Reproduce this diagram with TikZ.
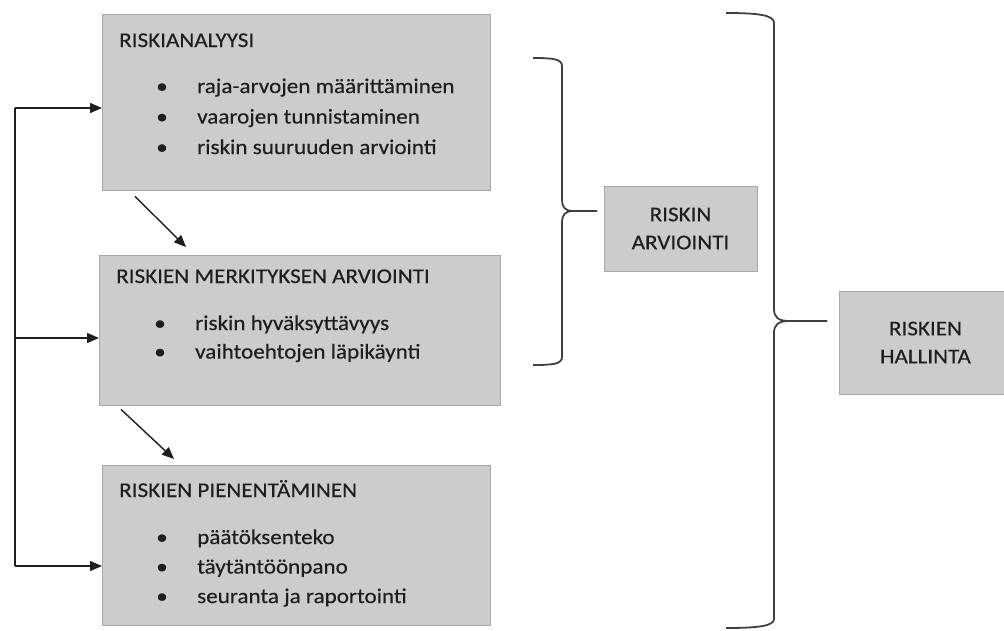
\documentclass[tikz,border=0pt]{standalone}
\usepackage{fontspec}
\setmainfont{Carlito}[FakeStretch=1.1, FakeBold=0.3]
\usetikzlibrary{arrows.meta,positioning}

\definecolor{boxgray}{HTML}{CCCCCC}
\definecolor{boxline}{HTML}{A8A8A8}
\definecolor{ink}{HTML}{1E1E1E}

\tikzset{
  box/.style={draw=boxline, fill=boxgray, inner sep=0pt, anchor=north west},
  sumbox/.style={draw=boxline, fill=boxgray, inner sep=0pt, align=center, text=ink},
  title/.style={anchor=base west, inner sep=0pt, text=ink},
  item/.style={anchor=base west, inner sep=0pt, text=ink},
  dot/.style={anchor=base, inner sep=0pt, text=ink},
  arr/.style={draw=ink, line width=1.4pt, -{Triangle[length=12pt,width=10pt]}},
  brace/.style={draw=ink!85, line width=1.8pt},
}

\begin{document}
\begin{tikzpicture}[x=1pt, y=-1pt, font=\fontsize{21}{28}\selectfont]
\useasboundingbox[fill=white] (0,0) rectangle (1004,630);

% the three steps
\node[box, minimum width=388pt, minimum height=176pt] (ana) at (102,14) {};
\node[title] (anat) at (119,47) {RISKIANALYYSI};
\foreach \t [count=\i] in {raja-arvojen määrittäminen, vaarojen tunnistaminen, riskin suuruuden arviointi} {
  \node[dot] (anad\i) at (162,{93+30.5*(\i-1)}) {\textbullet};
  \node[item] (ana\i) at (197,{93+30.5*(\i-1)}) {\t};
}

\node[box, minimum width=401pt, minimum height=150pt] (mer) at (99,255) {};
\node[title] (mert) at (116,283) {RISKIEN MERKITYKSEN ARVIOINTI};
\foreach \t [count=\i] in {riskin hyväksyttävyys, vaihtoehtojen läpikäynti} {
  \node[dot] (merd\i) at (160,{330+28.5*(\i-1)}) {\textbullet};
  \node[item] (mer\i) at (195,{330+28.5*(\i-1)}) {\t};
}

\node[box, minimum width=388pt, minimum height=160pt] (pie) at (102,465) {};
\node[title] (piet) at (119,497) {RISKIEN PIENENTÄMINEN};
\foreach \t [count=\i] in {päätöksenteko, täytäntöönpano, seuranta ja raportointi} {
  \node[dot] (pied\i) at (162,{544+29.5*(\i-1)}) {\textbullet};
  \node[item] (pie\i) at (197,{544+29.5*(\i-1)}) {\t};
}

% summary boxes
\node[sumbox, minimum width=153pt, minimum height=85pt] (arv) at (680.5,228.5) {RISKIN\\ARVIOINTI};
\node[sumbox, minimum width=173pt, minimum height=103pt] (hal) at (925.5,342.5) {RISKIEN\\HALLINTA};

% flow arrows
\draw[arr] ([xshift=33pt,yshift=-6pt]ana.south west) -- ([xshift=87pt,yshift=8pt]mer.north west);
\draw[arr] ([xshift=22pt,yshift=-4pt]mer.south west) -- ([xshift=72pt,yshift=6pt]pie.north west);

% feedback line
\coordinate (fb1) at (15,108);
\coordinate (fb2) at (15,338);
\coordinate (fb3) at (15,566);
\draw[draw=ink, line width=1.4pt] (fb1) -- (fb3);
\draw[arr] (fb1) -- (fb1 -| ana.west);
\draw[arr] (fb2) -- (fb2 -| mer.west);
\draw[arr] (fb3) -- (fb3 -| pie.west);

% braces
\coordinate (sbtop) at (533,58);
\coordinate (sbtip) at (597,211);
\coordinate (sbbot) at (533,365);
\draw[brace] (sbtop) .. controls (553,58) and (562,59) .. (562,66) -- (562,200)
  .. controls (562,207) and (565,211) .. (573,211) -- (sbtip);
\draw[brace] (sbtip) -- (573,211) .. controls (565,211) and (562,215) .. (562,222)
  -- (562,357) .. controls (562,364) and (553,365) .. (sbbot);

\coordinate (lbtop) at (726,13);
\coordinate (lbtip) at (827,321);
\coordinate (lbbot) at (726,628);
\draw[brace] (lbtop) .. controls (758,13) and (774,15) .. (774,23) -- (774,309)
  .. controls (774,317) and (778,321) .. (789,321) -- (lbtip);
\draw[brace] (lbtip) -- (789,321) .. controls (778,321) and (774,325) .. (774,333)
  -- (774,619) .. controls (774,626) and (758,628) .. (lbbot);
\end{tikzpicture}
\end{document}
